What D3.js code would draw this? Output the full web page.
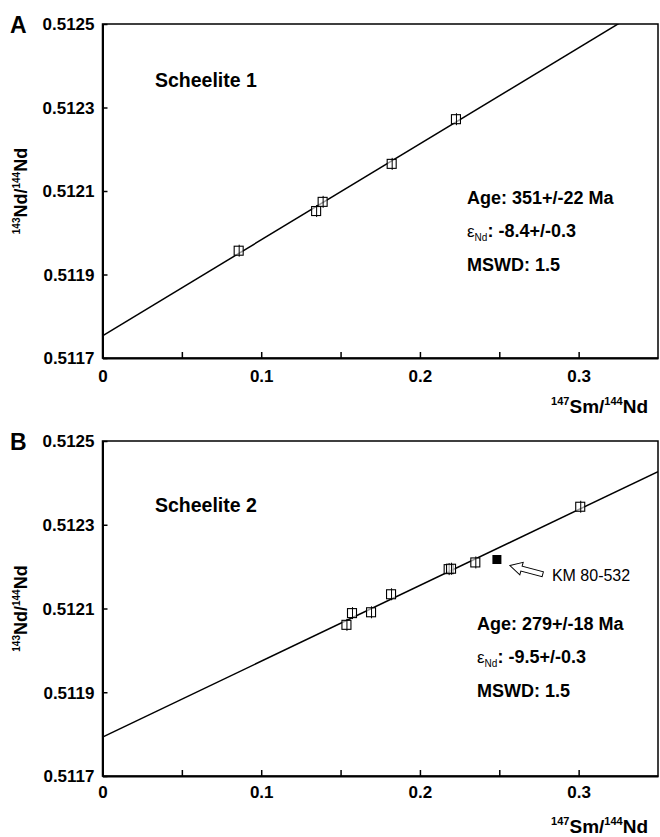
<!DOCTYPE html>
<html><head><meta charset="utf-8">
<script src="https://cdn.jsdelivr.net/npm/d3@7"></script>
<style>
html,body{margin:0;padding:0;background:#fff;}
svg{display:block;font-family:"Liberation Sans",Arial,Helvetica,sans-serif;}
</style></head>
<body>
<svg id="chart" width="660" height="837"></svg>
<script>
// ---- data ----
const xTickValues = [0, 0.1, 0.2, 0.3];
const xMinorTicks = [0.05, 0.15, 0.25];
const yTickValues = [0.5117, 0.5119, 0.5121, 0.5123, 0.5125];
const xDomain = [0, 0.35];
const yDomain = [0.5117, 0.5125];

// Panel A: Scheelite 1
const smA = [0.0858, 0.1346, 0.1387, 0.1822, 0.2227];
const ndA = [0.511957, 0.512052, 0.512074, 0.512165, 0.512272];
const fitA = {intercept: 0.511753, slope: 0.00230};
const statsA = ["Age: 351+/-22 Ma", "-8.4+/-0.3", "MSWD: 1.5"];

// Panel B: Scheelite 2
const smB = [0.1537, 0.1572, 0.1692, 0.1818, 0.2181, 0.2196, 0.2349, 0.3010];
const ndB = [0.512061, 0.512089, 0.512091, 0.512134, 0.512194, 0.512195, 0.512210, 0.512343];
const smKM = [0.2485];
const ndKM = [0.512217];
const fitB = {intercept: 0.511793, slope: 0.001811};
const statsB = ["Age: 279+/-18 Ma", "-9.5+/-0.3", "MSWD: 1.5"];

const svg = d3.select("#chart");

function panel(cfg) {
  const x = d3.scaleLinear().domain(xDomain).range([102.5, 658]);
  const y = d3.scaleLinear().domain(yDomain).range([cfg.bottom, cfg.top]);
  const g = svg.append("g");
  const clipId = "clip" + cfg.letter;
  svg.append("clipPath").attr("id", clipId).append("rect")
    .attr("x", x(xDomain[0])).attr("y", y(yDomain[1]))
    .attr("width", x(xDomain[1]) - x(xDomain[0])).attr("height", y(yDomain[0]) - y(yDomain[1]));

  // frame
  g.append("rect").attr("x", x(xDomain[0])).attr("y", y(yDomain[1]))
    .attr("width", x(xDomain[1]) - x(xDomain[0])).attr("height", y(yDomain[0]) - y(yDomain[1]))
    .attr("fill", "none").attr("stroke", "#000").attr("stroke-width", 1.5);

  // axes
  const xAxis = d3.axisBottom(x).tickValues(xTickValues.concat(xMinorTicks))
    .tickSizeInner(-6).tickSizeOuter(0)
    .tickFormat(d => xTickValues.includes(d) ? (d === 0 ? "0" : d3.format(".1f")(d)) : "");
  const gx = g.append("g").attr("transform", `translate(0,${y(yDomain[0])})`).call(xAxis);
  gx.select(".domain").attr("stroke-width", 2);
  gx.selectAll(".tick line").attr("stroke-width", 1.5);
  gx.selectAll(".tick text").attr("font-size", 17).attr("font-weight", "bold")
    .attr("dy", 0).attr("y", cfg.xLabelOffset).attr("fill", "#000");

  const yAxis = d3.axisLeft(y).tickValues(yTickValues).tickSizeInner(-5).tickSizeOuter(0)
    .tickFormat(d3.format(".4f"));
  const gy = g.append("g").attr("transform", `translate(${x(xDomain[0])},0)`).call(yAxis);
  gy.select(".domain").attr("stroke-width", 2);
  gy.selectAll(".tick line").attr("stroke-width", 1.5);
  gy.selectAll(".tick text").attr("font-size", 17).attr("font-weight", "bold")
    .attr("x", -8).attr("dy", "0.35em").attr("fill", "#000");

  // regression line
  const line = d3.line().x(d => x(d)).y(d => y(cfg.fit.intercept + cfg.fit.slope * d));
  g.append("path").datum(xDomain).attr("d", line)
    .attr("clip-path", `url(#${clipId})`)
    .attr("fill", "none").attr("stroke", "#000").attr("stroke-width", 1.5);

  // markers
  const pts = cfg.sm.map((s, i) => ({s, n: cfg.nd[i]}));
  const m = g.append("g").selectAll("g").data(pts).join("g")
    .attr("transform", d => `translate(${x(d.s)},${y(d.n)})`);
  m.append("rect").attr("x", -4.5).attr("y", -4.5).attr("width", 9).attr("height", 9)
    .attr("fill", "#fff").attr("fill-opacity", 0.6).attr("stroke", "#000").attr("stroke-width", 1.1);
  m.append("line").attr("x1", 0.5).attr("x2", 0.5).attr("y1", -6).attr("y2", 6)
    .attr("stroke", "#000").attr("stroke-width", 1);

  // panel letter
  g.append("text").attr("x", 10).attr("y", cfg.letterY).text(cfg.letter)
    .attr("font-size", 23).attr("font-weight", "bold");

  // title
  g.append("text").attr("x", 155).attr("y", cfg.titleY).text(cfg.title)
    .attr("font-size", 19.5).attr("font-weight", "bold");

  // stats
  const sx = cfg.statsX;
  g.append("text").attr("x", sx).attr("y", cfg.statsY).text(cfg.stats[0])
    .attr("font-size", 18).attr("font-weight", "bold");
  const eps = g.append("text").attr("x", sx).attr("y", cfg.statsY + 33);
  eps.append("tspan").text("ε").attr("font-size", 17);
  eps.append("tspan").text("Nd").attr("font-size", 10).attr("dy", 4);
  eps.append("tspan").text(": " + cfg.stats[1]).attr("font-size", 18)
    .attr("font-weight", "bold").attr("dy", -4);
  g.append("text").attr("x", sx).attr("y", cfg.statsY + 67).text(cfg.stats[2])
    .attr("font-size", 18).attr("font-weight", "bold");

  // x axis title
  const xt = g.append("text").attr("x", 648).attr("y", cfg.xTitleY)
    .attr("text-anchor", "end").attr("font-weight", "bold");
  xt.append("tspan").text("147").attr("font-size", 11).attr("dy", -8);
  xt.append("tspan").text("Sm/").attr("font-size", 19).attr("dy", 8);
  xt.append("tspan").text("144").attr("font-size", 11).attr("dy", -8);
  xt.append("tspan").text("Nd").attr("font-size", 19).attr("dy", 8);

  // y axis title
  const cy = (y(yDomain[0]) + y(yDomain[1])) / 2;
  const yt = g.append("text").attr("transform", `translate(27,${cy}) rotate(-90)`)
    .attr("text-anchor", "middle").attr("font-weight", "bold");
  yt.append("tspan").text("143").attr("font-size", 10).attr("dy", -7);
  yt.append("tspan").text("Nd/").attr("font-size", 18).attr("dy", 7);
  yt.append("tspan").text("144").attr("font-size", 10).attr("dy", -7);
  yt.append("tspan").text("Nd").attr("font-size", 18).attr("dy", 7);

  return {g, x, y};
}

panel({letter: "A", top: 24, bottom: 358, sm: smA, nd: ndA, fit: fitA,
  title: "Scheelite 1", stats: statsA, letterY: 33, titleY: 87, statsX: 467, statsY: 204,
  xLabelOffset: 24, xTitleY: 413});

const pB = panel({letter: "B", top: 441, bottom: 776, sm: smB, nd: ndB, fit: fitB,
  title: "Scheelite 2", stats: statsB, letterY: 450, titleY: 512, statsX: 477, statsY: 630,
  xLabelOffset: 22, xTitleY: 833});

// outlier KM 80-532
const km = smKM.map((s, i) => ({s, n: ndKM[i]}));
pB.g.append("g").selectAll("rect").data(km).join("rect")
  .attr("x", d => pB.x(d.s) - 4.5).attr("y", d => pB.y(d.n) - 4.5)
  .attr("width", 9).attr("height", 9).attr("fill", "#000");
km.forEach(d => {
  const px = pB.x(d.s), py = pB.y(d.n);
  pB.g.append("polygon")
    .attr("points", "0,0 12,-6.5 12,-2.5 34,-2.5 34,2.5 12,2.5 12,6.5")
    .attr("transform", `translate(${px + 13},${py + 6}) rotate(15)`)
    .attr("fill", "#fff").attr("stroke", "#000").attr("stroke-width", 1);
  pB.g.append("text").attr("x", px + 55).attr("y", py + 21).text("KM 80-532")
    .attr("font-size", 16);
});
</script>
</body></html>
